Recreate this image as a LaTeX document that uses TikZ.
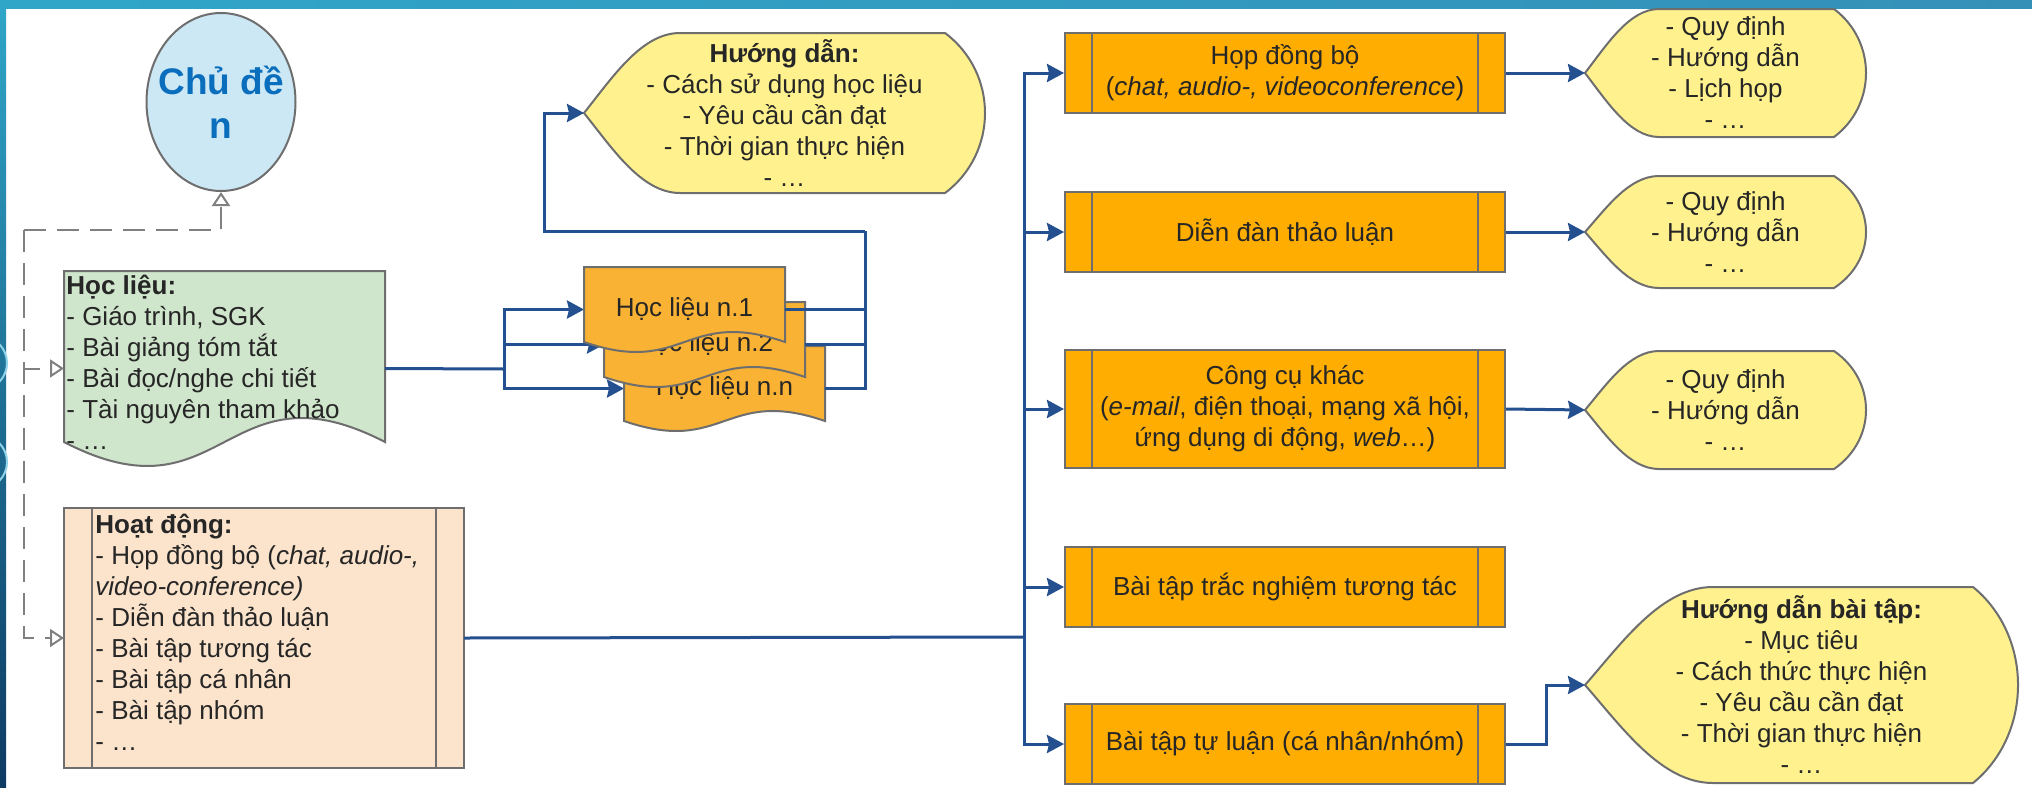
\documentclass[tikz,border=0pt]{standalone}
\usepackage{fontspec}
\setmainfont{Liberation Sans}
\usetikzlibrary{arrows.meta,calc,fit,shapes.geometric}
\definecolor{connblue}{HTML}{25508F}
\definecolor{shapegray}{HTML}{6E6E6E}
\definecolor{depgray}{HTML}{808080}
\definecolor{txt}{HTML}{262626}
\definecolor{orangebox}{HTML}{FFAD00}
\definecolor{orangedoc}{HTML}{F9B233}
\definecolor{yellowdisp}{HTML}{FFF28E}
\definecolor{greendoc}{HTML}{D0E6CC}
\definecolor{peach}{HTML}{FCE4CC}
\definecolor{circfill}{HTML}{CDE8F5}
\definecolor{chublue}{HTML}{0A6EBD}
\definecolor{barA}{HTML}{2FA6C8}
\definecolor{barB}{HTML}{5CC4D9}
\definecolor{barC}{HTML}{3590B8}
\definecolor{sideB}{HTML}{0E3A63}
\definecolor{decocol}{HTML}{8FD3E8}

% document shape: name, fill, wave amplitude
\newcommand{\docshape}[3]{%
  \path[draw=shapegray, line width=1pt, fill=#2] let \p1=(#1.north west), \p2=(#1.south east) in
    (\x1,\y1) -- (\x2,\y1) -- (\x2,{\y2+#3})
    .. controls ({(\x1+\x2)/2},{\y2+4.46*#3}) and ({(\x1+\x2)/2},{\y2-2.46*#3}) ..
    (\x1,{\y2+#3}) -- cycle;}
% display shape: name, fill, left part width, right bulge
\newcommand{\dispshape}[4]{%
  \path[draw=shapegray, line width=1pt, fill=#2] let \p1=(#1.north west), \p2=(#1.south east), \p3=(#1.west) in
    (\p3) .. controls ({\x1+0.3*#3},{\y3+0.225*(\y1-\y2)}) and ({\x1+0.6*#3},\y1) .. ({\x1+#3},\y1)
    -- ({\x2-#4},\y1)
    .. controls ({\x2+#4/3},{\y1-0.25*(\y1-\y2)}) and ({\x2+#4/3},{\y2+0.25*(\y1-\y2)}) .. ({\x2-#4},\y2)
    -- ({\x1+#3},\y2)
    .. controls ({\x1+0.6*#3},\y2) and ({\x1+0.3*#3},{\y3-0.225*(\y1-\y2)}) .. cycle;}
% side bars of a predefined-process box
\newcommand{\sidebars}[1]{%
  \draw[shapegray, line width=1pt] ([xshift=14pt]#1.north west) -- ([xshift=14pt]#1.south west)
    ([xshift=-14pt]#1.north east) -- ([xshift=-14pt]#1.south east);}

\begin{document}
\begin{tikzpicture}[x=0.5pt,y=-0.5pt,
  font=\fontsize{13pt}{15.5pt}\selectfont, text=txt,
  conn/.style={draw=connblue, line width=1.5pt},
  arr/.style={-{Stealth[length=8.5pt,width=9pt,inset=1pt]}},
  dep/.style={draw=depgray, line width=1pt, dash pattern=on 11pt off 5.5pt},
  opentip/.style={-{Triangle[length=7pt,width=9pt,fill=white]}},
  geo/.style={inner sep=0pt, outer sep=0pt},
  lbl/.style={inner sep=0pt, align=center},
  pbox/.style={draw=shapegray, line width=1pt, fill=orangebox, minimum width=220pt,
    minimum height=40pt, inner sep=0pt, align=center}]

\useasboundingbox (0,0) rectangle (2032,787);
\fill[white] (0,0) rectangle (2032,787);
\shade[left color=barA, middle color=barB, right color=barC] (0,0) rectangle (2032,8);
\shade[top color=barA, bottom color=sideB] (0,0) rectangle (6,787);
\draw[decocol, line width=1pt] (-20,363) circle[radius=27];
\draw[decocol, line width=1pt] (-20,462) circle[radius=27];

% topic ellipse
\node (chu) [ellipse, draw=shapegray, line width=1pt, fill=circfill, minimum width=74.5pt,
  minimum height=89pt, inner sep=0pt] at (221,102) {};
\node (chut) [lbl, text=chublue, font=\bfseries\fontsize{18.5pt}{22pt}\selectfont]
  at (chu.center) {Chủ đề\\n};

% Hoc lieu document
\node (hl) [geo, fit={(64,271) (385,466)}] {};
\docshape{hl}{greendoc}{12pt}
\node (hltext) [anchor=north west, inner sep=0pt, align=left] at (66,275)
  {\textbf{Học liệu:}\\- Giáo trình, SGK\\- Bài giảng tóm tắt\\- Bài đọc/nghe chi tiết\\- Tài nguyên tham khảo\\- …};

% Hoat dong box
\node (hd) [geo, fit={(64,508) (464,768)}, draw=shapegray, line width=1pt, fill=peach] {};
\sidebars{hd}
\node (hdtext) [anchor=north west, inner sep=0pt, align=left] at (95,514)
  {\textbf{Hoạt động:}\\- Họp đồng bộ (\textit{chat, audio-,}\\\textit{video-conference)}\\- Diễn đàn thảo luận\\- Bài tập tương tác\\- Bài tập cá nhân\\- Bài tập nhóm\\- …};

% dashed dependency lines
\coordinate (dj) at (24,230);
\draw[dep, opentip] (dj) |- (hd.west);
\draw[dep, opentip] (dj) |- (hl.west);
\draw[dep, opentip] (dj) -| (chu.south);

% stack of learning materials
\node (n1) [geo, fit={(584,267) (785,352)}] {};
\node (n2) [geo, fit={(604,302) (805,387)}] {};
\node (n3) [geo, fit={(624,346) (825,431)}] {};
\coordinate (sx) at (504,369);
\draw[conn] (hl.east) -- (sx);
\draw[conn, arr] (sx) |- (n1.west);
\draw[conn, arr] (sx) |- (n2.west);
\draw[conn, arr] (sx) |- (n3.west);
\docshape{n3}{orangedoc}{5pt}
\node (n3t) [lbl] at (n3.center) {Học liệu n.n};
\docshape{n2}{orangedoc}{5pt}
\node (n2t) [lbl] at (n2.center) {Học liệu n.2};
\docshape{n1}{orangedoc}{5pt}
\node (n1t) [lbl] at (n1.center) {Học liệu n.1};

% guidance display
\node (hg) [geo, fit={(584,33) (985,193)}] {};
\dispshape{hg}{yellowdisp}{48pt}{20pt}
\node (hgt) [lbl] at (hg.center)
  {\textbf{Hướng dẫn:}\\- Cách sử dụng học liệu\\- Yêu cầu cần đạt\\- Thời gian thực hiện\\- …};

\coordinate (ox) at (865,231);
\draw[conn] (n1.east) -| (ox);
\draw[conn] (n2.east) -| (ox);
\draw[conn] (n3.east) -| (ox);
\draw[conn, arr] (ox) -| ([xshift=-20pt]hg.west) -- (hg.west);

% activity boxes
\node (b1) [pbox] at (1285,73) {Họp đồng bộ\\(\textit{chat, audio-, videoconference})};
\node (b2) [pbox] at (1285,232) {Diễn đàn thảo luận};
\node (b3) [pbox, minimum height=59pt] at (1285,409)
  {Công cụ khác\\(\textit{e-mail}, điện thoại, mạng xã hội,\\ứng dụng di động, \textit{web}…)};
\node (b4) [pbox] at (1285,587) {Bài tập trắc nghiệm tương tác};
\node (b5) [pbox] at (1285,744) {Bài tập tự luận (cá nhân/nhóm)};
\sidebars{b1}\sidebars{b2}\sidebars{b3}\sidebars{b4}\sidebars{b5}

\coordinate (bx) at (1024,637);
\draw[conn] (hd.east) -- (bx);
\foreach \b in {b1,b2,b3,b4,b5} \draw[conn, arr] (bx) |- (\b.west);

% right displays
\node (q1) [geo, fit={(1585,9) (1866,137)}] {};
\dispshape{q1}{yellowdisp}{37pt}{16pt}
\node (q1t) [lbl] at (q1.center) {- Quy định\\- Hướng dẫn\\- Lịch họp\\- …};
\node (q2) [geo, fit={(1585,176) (1866,288)}] {};
\dispshape{q2}{yellowdisp}{37pt}{16pt}
\node (q2t) [lbl] at (q2.center) {- Quy định\\- Hướng dẫn\\- …};
\node (q3) [geo, fit={(1585,351) (1866,469)}] {};
\dispshape{q3}{yellowdisp}{37pt}{16pt}
\node (q3t) [lbl] at (q3.center) {- Quy định\\- Hướng dẫn\\- …};
\node (q4) [geo, fit={(1585,587) (2018,783)}] {};
\dispshape{q4}{yellowdisp}{64pt}{22.5pt}
\node (q4t) [lbl] at (q4.center)
  {\textbf{Hướng dẫn bài tập:}\\- Mục tiêu\\- Cách thức thực hiện\\- Yêu cầu cần đạt\\- Thời gian thực hiện\\- …};

\draw[conn, arr] (b1.east) -- (q1.west);
\draw[conn, arr] (b2.east) -- (q2.west);
\draw[conn, arr] (b3.east) -- (q3.west);
\draw[conn, arr] (b5.east) -- ++(40,0) |- (q4.west);
\end{tikzpicture}
\end{document}
